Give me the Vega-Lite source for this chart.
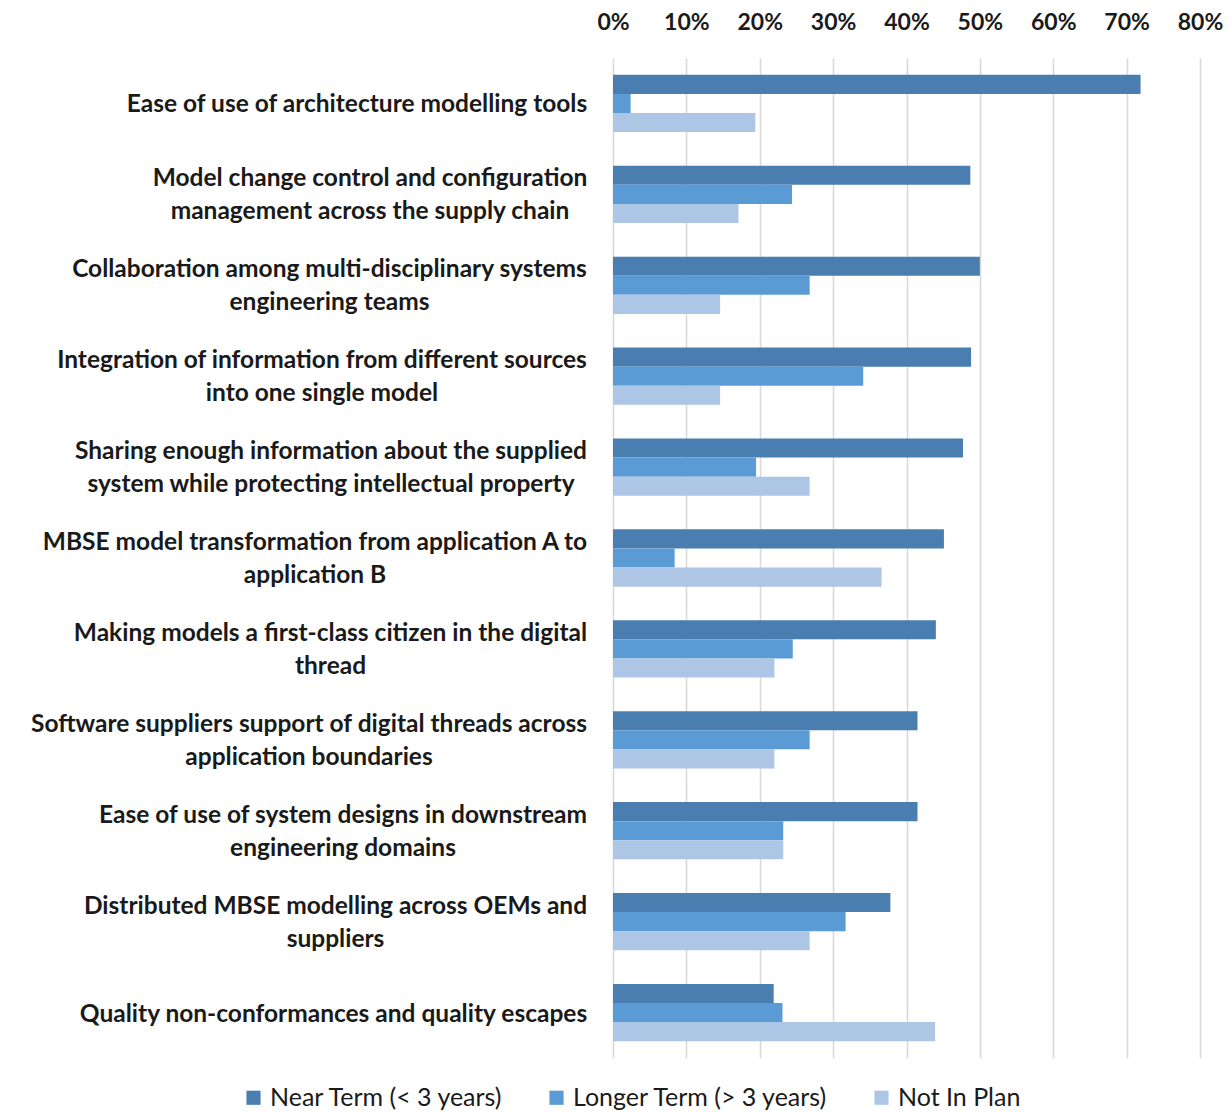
{
  "$schema": "https://vega.github.io/schema/vega-lite/v6.json",
  "width": 587,
  "height": 1000,
  "autosize": {"type": "none"},
  "padding": {"left": 613, "top": 58, "right": 31, "bottom": 54},
  "config": {
    "view": {"stroke": null},
    "font": "Lato"
  },
  "datasets": {
    "rows": [
      {"item": "Ease of use of architecture modelling tools", "series": "Near Term (< 3 years)", "value": 0.719},
      {"item": "Ease of use of architecture modelling tools", "series": "Longer Term (> 3 years)", "value": 0.024},
      {"item": "Ease of use of architecture modelling tools", "series": "Not In Plan", "value": 0.194},
      {"item": "Model change control and configuration|management across the supply chain", "series": "Near Term (< 3 years)", "value": 0.487},
      {"item": "Model change control and configuration|management across the supply chain", "series": "Longer Term (> 3 years)", "value": 0.244},
      {"item": "Model change control and configuration|management across the supply chain", "series": "Not In Plan", "value": 0.171},
      {"item": "Collaboration among multi-disciplinary systems|engineering teams", "series": "Near Term (< 3 years)", "value": 0.5},
      {"item": "Collaboration among multi-disciplinary systems|engineering teams", "series": "Longer Term (> 3 years)", "value": 0.268},
      {"item": "Collaboration among multi-disciplinary systems|engineering teams", "series": "Not In Plan", "value": 0.146},
      {"item": "Integration of information from different sources|into one single model", "series": "Near Term (< 3 years)", "value": 0.488},
      {"item": "Integration of information from different sources|into one single model", "series": "Longer Term (> 3 years)", "value": 0.341},
      {"item": "Integration of information from different sources|into one single model", "series": "Not In Plan", "value": 0.146},
      {"item": "Sharing enough information about the supplied|system while protecting intellectual property", "series": "Near Term (< 3 years)", "value": 0.477},
      {"item": "Sharing enough information about the supplied|system while protecting intellectual property", "series": "Longer Term (> 3 years)", "value": 0.195},
      {"item": "Sharing enough information about the supplied|system while protecting intellectual property", "series": "Not In Plan", "value": 0.268},
      {"item": "MBSE model transformation from application A to|application B", "series": "Near Term (< 3 years)", "value": 0.451},
      {"item": "MBSE model transformation from application A to|application B", "series": "Longer Term (> 3 years)", "value": 0.084},
      {"item": "MBSE model transformation from application A to|application B", "series": "Not In Plan", "value": 0.366},
      {"item": "Making models a first-class citizen in the digital|thread", "series": "Near Term (< 3 years)", "value": 0.44},
      {"item": "Making models a first-class citizen in the digital|thread", "series": "Longer Term (> 3 years)", "value": 0.245},
      {"item": "Making models a first-class citizen in the digital|thread", "series": "Not In Plan", "value": 0.22},
      {"item": "Software suppliers support of digital threads across|application boundaries", "series": "Near Term (< 3 years)", "value": 0.415},
      {"item": "Software suppliers support of digital threads across|application boundaries", "series": "Longer Term (> 3 years)", "value": 0.268},
      {"item": "Software suppliers support of digital threads across|application boundaries", "series": "Not In Plan", "value": 0.22},
      {"item": "Ease of use of system designs in downstream|engineering domains", "series": "Near Term (< 3 years)", "value": 0.415},
      {"item": "Ease of use of system designs in downstream|engineering domains", "series": "Longer Term (> 3 years)", "value": 0.232},
      {"item": "Ease of use of system designs in downstream|engineering domains", "series": "Not In Plan", "value": 0.232},
      {"item": "Distributed MBSE modelling across OEMs and|suppliers", "series": "Near Term (< 3 years)", "value": 0.378},
      {"item": "Distributed MBSE modelling across OEMs and|suppliers", "series": "Longer Term (> 3 years)", "value": 0.317},
      {"item": "Distributed MBSE modelling across OEMs and|suppliers", "series": "Not In Plan", "value": 0.268},
      {"item": "Quality non-conformances and quality escapes", "series": "Near Term (< 3 years)", "value": 0.219},
      {"item": "Quality non-conformances and quality escapes", "series": "Longer Term (> 3 years)", "value": 0.231},
      {"item": "Quality non-conformances and quality escapes", "series": "Not In Plan", "value": 0.439}
    ]
  },
  "data": {"name": "rows"},
  "mark": {"type": "bar"},
  "encoding": {
    "y": {
      "field": "item",
      "type": "nominal",
      "sort": null,
      "scale": {"paddingInner": 0.37, "paddingOuter": 0.185},
      "axis": {
        "title": null,
        "domain": false,
        "ticks": false,
        "labelExpr": "split(datum.label, '|')",
        "labelFont": "Lato",
        "labelFontSize": 24.5,
        "labelFontWeight": "bold",
        "labelColor": "#1a1a1a",
        "labelLineHeight": 33,
        "labelLimit": 700,
        "labelAlign": "center",
        "labelBaseline": "middle",
        "labelOffset": {"condition": {"test": "indexof(datum.value, '|') >= 0", "value": -15}, "value": 2},
        "labelPadding": {
          "condition": [
            {"test": "indexof(datum.value, 'Ease of use of arch') === 0", "value": 256.5},
            {"test": "indexof(datum.value, 'Model change') === 0", "value": 243.5},
            {"test": "indexof(datum.value, 'Collaboration') === 0", "value": 284},
            {"test": "indexof(datum.value, 'Integration') === 0", "value": 291.5},
            {"test": "indexof(datum.value, 'Sharing') === 0", "value": 282.5},
            {"test": "indexof(datum.value, 'MBSE') === 0", "value": 298.5},
            {"test": "indexof(datum.value, 'Making') === 0", "value": 283},
            {"test": "indexof(datum.value, 'Software') === 0", "value": 304.5},
            {"test": "indexof(datum.value, 'Ease of use of system') === 0", "value": 270.5},
            {"test": "indexof(datum.value, 'Distributed') === 0", "value": 278},
            {"test": "indexof(datum.value, 'Quality') === 0", "value": 280}
          ],
          "value": 280
        }
      }
    },
    "yOffset": {
      "field": "series",
      "type": "nominal",
      "scale": {"domain": ["Near Term (< 3 years)", "Longer Term (> 3 years)", "Not In Plan"], "paddingInner": 0, "paddingOuter": 0}
    },
    "x": {
      "field": "value",
      "type": "quantitative",
      "scale": {"domain": [0, 0.8], "nice": false},
      "axis": {
        "orient": "top",
        "title": null,
        "format": ".0%",
        "values": [0, 0.1, 0.2, 0.3, 0.4, 0.5, 0.6, 0.7, 0.8],
        "domain": false,
        "ticks": false,
        "grid": true,
        "gridColor": "#d9d9d9",
        "gridWidth": 1.6,
        "labelFont": "Lato",
        "labelFontSize": 23,
        "labelFontWeight": "bold",
        "labelColor": "#1a1a1a",
        "labelPadding": 24,
        "labelFlush": false
      }
    },
    "color": {
      "field": "series",
      "type": "nominal",
      "scale": {"domain": ["Near Term (< 3 years)", "Longer Term (> 3 years)", "Not In Plan"], "range": ["#4a7eb0", "#5b9bd5", "#adc6e6"]},
      "legend": {
        "title": null,
        "orient": "none",
        "direction": "horizontal",
        "legendX": -372,
        "legendY": 1027,
        "symbolType": "square",
        "symbolSize": 200,
        "symbolStrokeWidth": 0,
        "labelFont": "Lato",
        "labelFontSize": 25,
        "labelColor": "#1a1a1a",
        "labelLimit": 400,
        "columnPadding": 40,
        "symbolOffset": 0
      }
    }
  }
}
